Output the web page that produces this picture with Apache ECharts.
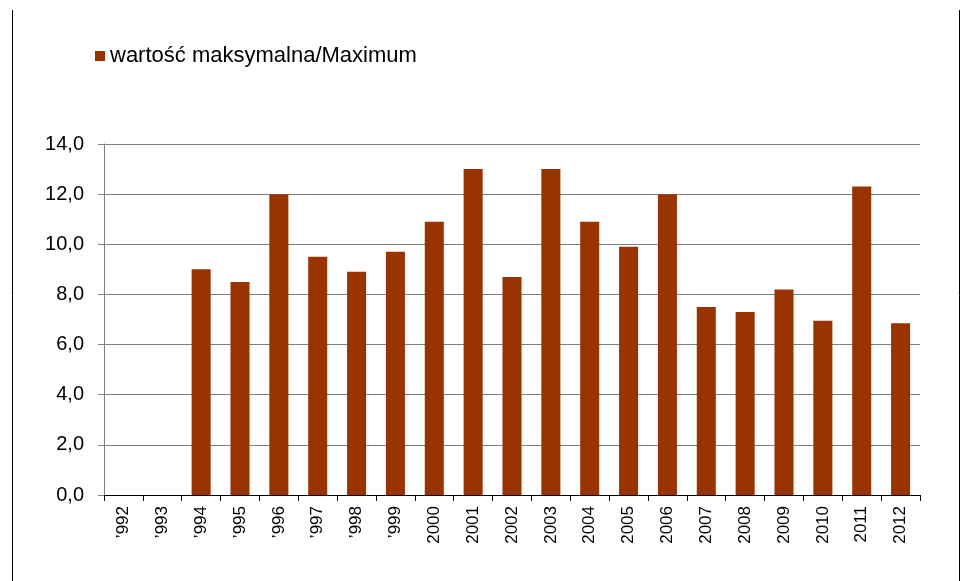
<!DOCTYPE html>
<html>
<head>
<meta charset="utf-8">
<script src="https://cdn.jsdelivr.net/npm/echarts@6/dist/echarts.min.js"></script>
<style>
  html, body { margin: 0; padding: 0; background: #fff; }
  #chart { width: 962px; height: 581px; }
</style>
</head>
<body>
<div id="chart"></div>
<script>
// lata / years
const years = ['\u2019992', '\u2019993', '\u2019994', '\u2019995', '\u2019996', '\u2019997', '\u2019998', '\u2019999',
    '2000', '2001', '2002', '2003', '2004', '2005', '2006', '2007', '2008', '2009', '2010', '2011', '2012']
// wartość maksymalna
const maxValues = [null, null, 9.0, 8.5, 12.0, 9.5, 8.9, 9.7, 10.9, 13.0, 8.7, 13.0, 10.9, 9.9, 12.0, 7.5, 7.3, 8.2, 6.95, 12.3, 6.85]
const seriesName = 'wartość maksymalna/Maximum'

let myChart = echarts.init(document.getElementById('chart'))
myChart.setOption({
    animation: false,
    textStyle: { fontFamily: 'Liberation Sans, Arial, sans-serif' },
    legend: {
        left: 90,
        top: 40,
        itemWidth: 10,
        itemHeight: 10,
        itemGap: 7,
        icon: 'rect',
        textStyle: { fontSize: 22, color: '#000' },
        data: [seriesName]
    },
    grid: { left: 104, right: 42, top: 144, bottom: 86 },
    xAxis: {
        type: 'category',
        data: years,
        axisLine: { lineStyle: { color: '#000', width: 1 } },
        axisTick: { show: true, length: 6, lineStyle: { color: '#000' } },
        axisLabel: { rotate: 90, fontSize: 17, color: '#000', margin: 11, interval: 0 }
    },
    yAxis: {
        type: 'value',
        min: 0,
        max: 14,
        interval: 2,
        axisLine: { show: true, lineStyle: { color: '#808080' } },
        axisTick: { show: true, length: 6, lineStyle: { color: '#808080' } },
        splitLine: { lineStyle: { color: '#808080', width: 1 } },
        axisLabel: {
            fontSize: 20,
            color: '#000',
            margin: 20,
            formatter: v => v.toFixed(1).replace('.', ',')
        }
    },
    graphic: [
        { type: 'line', shape: { x1: 12.5, y1: 10, x2: 12.5, y2: 581 }, style: { stroke: '#000', lineWidth: 1 } },
        { type: 'line', shape: { x1: 959.5, y1: 10, x2: 959.5, y2: 581 }, style: { stroke: '#000', lineWidth: 1 } }
    ],
    series: [
        {
            name: seriesName,
            type: 'bar',
            data: maxValues,
            barWidth: '49%',
            itemStyle: { color: '#993300' }
        }
    ]
})
</script>
</body>
</html>
